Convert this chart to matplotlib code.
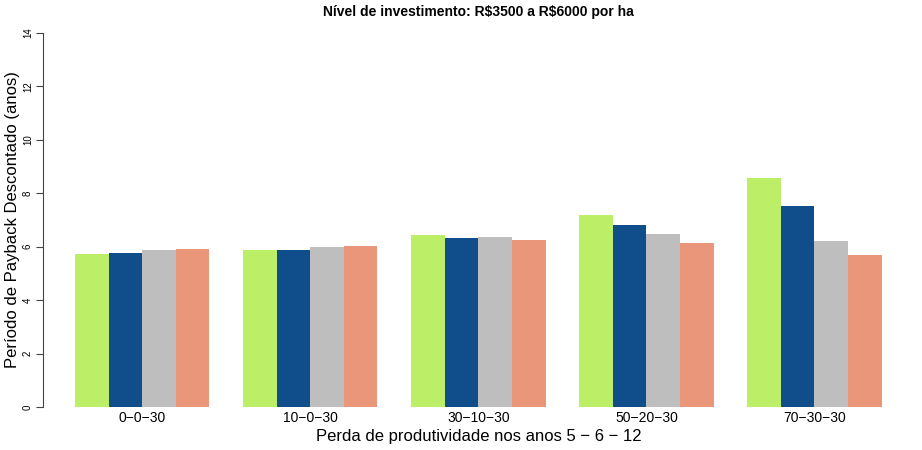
import matplotlib
matplotlib.use("Agg")
import matplotlib.pyplot as plt
import numpy as np

plt.rcParams["font.family"] = ["Liberation Sans", "DejaVu Sans"]

# dados
categorias = ["0−0−30", "10−0−30", "30−10−30", "50−20−30", "70−30−30"]
serie_1 = [5.73, 5.88, 6.45, 7.19, 8.58]
serie_2 = [5.75, 5.87, 6.32, 6.82, 7.53]
serie_3 = [5.87, 6.00, 6.38, 6.47, 6.22]
serie_4 = [5.92, 6.02, 6.25, 6.13, 5.70]
cores = ["#BCEE68", "#104E8B", "#BEBEBE", "#E9967A"]
y_ticks = [0, 2, 4, 6, 8, 10, 12, 14]

series = [serie_1, serie_2, serie_3, serie_4]
n_series = len(series)
passo = n_series + 1

fig = plt.figure(figsize=(9.22, 4.5), dpi=100)
ax = fig.add_axes([0.0463, 0.0622, 0.9450, 0.8978])

for k, (valores, cor) in enumerate(zip(series, cores)):
    esquerda = 1 + passo * np.arange(len(categorias)) + k
    ax.bar(esquerda, valores, width=1, align="edge", color=cor, linewidth=0)

centros = 1 + passo * np.arange(len(categorias)) + n_series / 2
ax.set_xticks(centros)
ax.set_xticklabels(categorias, fontsize=10)
ax.tick_params(axis="x", length=0, pad=-8)

ax.set_yticks(y_ticks)
ax.set_yticklabels([str(v) for v in y_ticks], rotation=90, va="center", fontsize=7)
ax.tick_params(axis="y", length=5, width=0.8, pad=2, color="#444444")

total = passo * len(categorias)
ax.set_xlim(1 - 0.04 * (total - 1), total + 0.04 * (total - 1))
ax.set_ylim(-0.56, 14.56)

for lado in ["top", "right", "bottom"]:
    ax.spines[lado].set_visible(False)
ax.spines["left"].set_bounds(0, 14)
ax.spines["left"].set_color("#444444")
ax.spines["left"].set_linewidth(0.8)

ax.set_xlabel("Perda de produtividade nos anos 5 − 6 − 12", fontsize=12, va="center")
ax.xaxis.set_label_coords(0.5, -0.035)
ax.set_ylabel("Período de Payback Descontado (anos)", fontsize=12, va="center")
ax.yaxis.set_label_coords(-0.035, 0.5)
fig.text(0.519, 0.973, r"Nível de investimento: R\$3500 a R\$6000 por ha",
         fontsize=10, fontweight="bold", ha="center", va="center")

fig.savefig("out.png", dpi=100)
